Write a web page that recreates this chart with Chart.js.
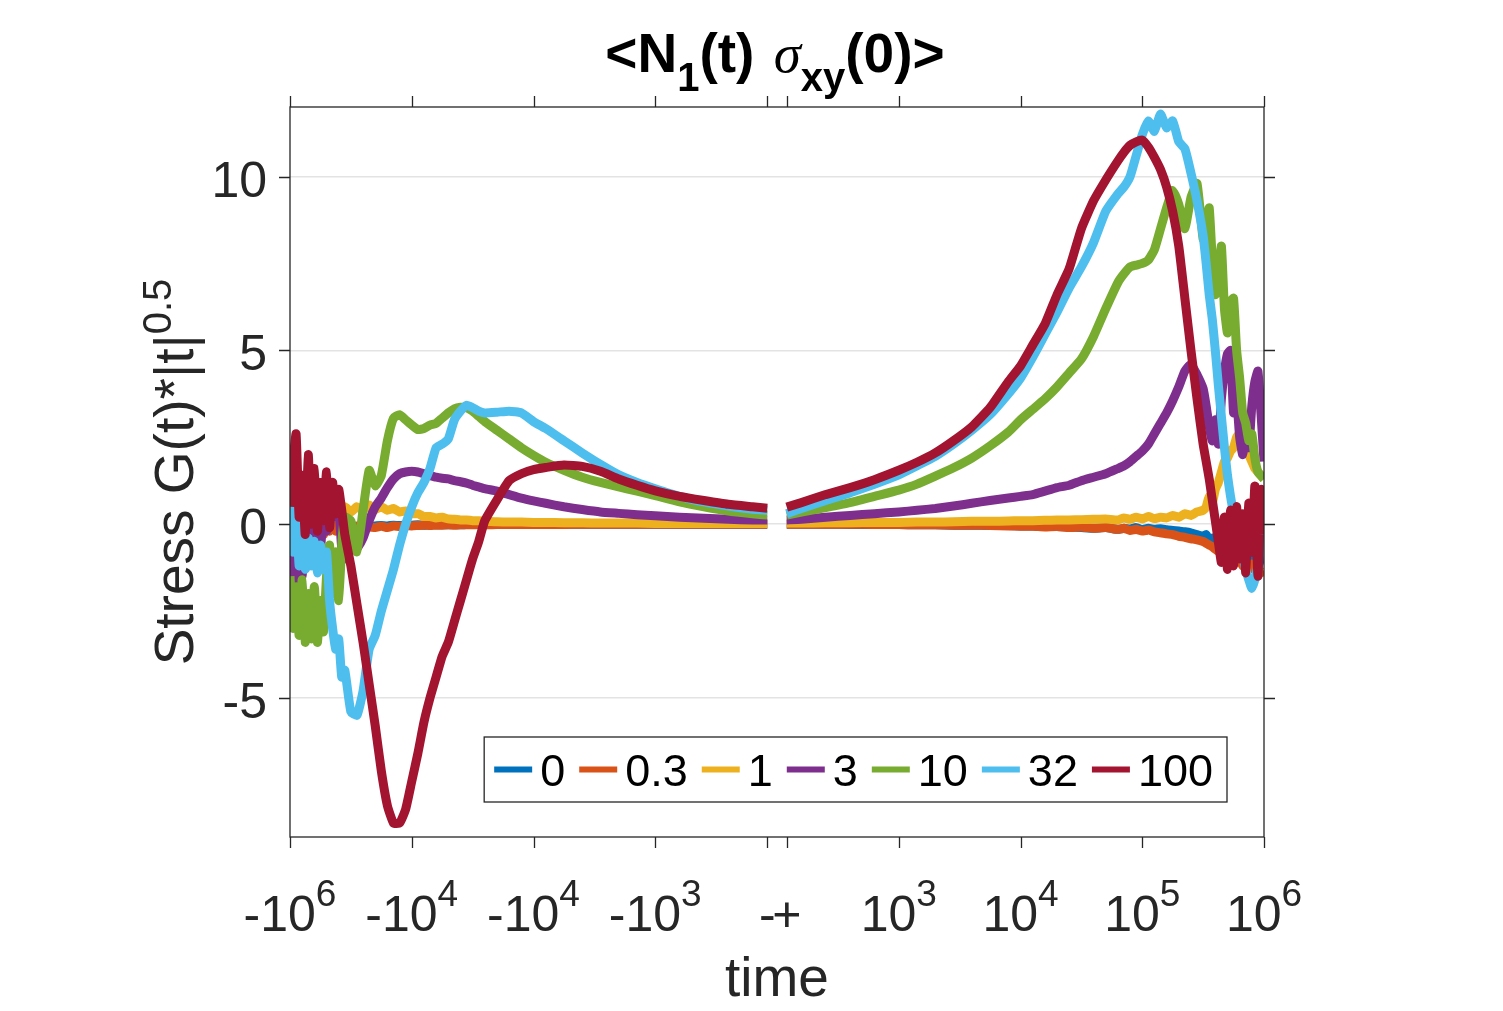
<!DOCTYPE html>
<html>
<head>
<meta charset="utf-8">
<title>N1 sigma_xy correlation</title>
<script src="https://cdn.jsdelivr.net/npm/chart.js@4.4.1/dist/chart.umd.min.js"></script>
<style>
    html, body { margin: 0; padding: 0; background: #fff; }
    #wrap { width: 1503px; height: 1011px; }
</style>
</head>
<body>
<div id="wrap"><canvas id="chart" width="1503" height="1011"></canvas></div>
<script>
// Series labels and MATLAB default colours
const seriesNames = ['0', '0.3', '1', '3', '10', '32', '100'];
const seriesColors = ['#0072BD', '#D95319', '#EDB120', '#7E2F8E', '#77AC30', '#4DBEEE', '#A2142F'];

// log10|t| sample points, negative side (from -10^6 towards the gap) and positive side
const negTimeExp = [6.000, 5.975, 5.950, 5.925, 5.900, 5.875, 5.850, 5.825, 5.800, 5.775, 5.750, 5.725, 5.700, 5.675, 5.650, 5.625, 5.600, 5.575, 5.550,
    5.50, 5.45, 5.40, 5.35, 5.30, 5.25, 5.20, 5.15, 5.10, 5.05, 5.00, 4.95, 4.90, 4.85, 4.80, 4.75, 4.70, 4.65, 4.60, 4.55, 4.50, 4.45, 4.40,
    4.30, 4.20, 4.10, 4.00, 3.90,
    3.75, 3.60, 3.45, 3.30, 3.15, 3.00,
    2.80, 2.60, 2.40, 2.20, 2.08];
const posTimeExp = [2.08, 2.20, 2.40, 2.60, 2.80, 3.00, 3.15, 3.30, 3.45, 3.60, 3.75, 3.90,
    4.00, 4.10, 4.20, 4.30, 4.40, 4.50, 4.60, 4.70, 4.80,
    4.85, 4.90, 4.95, 5.00, 5.05, 5.10, 5.15, 5.20, 5.25, 5.30, 5.35, 5.40, 5.45, 5.50,
    5.525, 5.550, 5.575, 5.600, 5.625, 5.650, 5.675, 5.700, 5.725, 5.750, 5.775, 5.800, 5.825, 5.850, 5.875, 5.900, 5.925, 5.950, 5.975, 6.000];

// Stress G(t)*|t|^0.5, negative times
const neg0 = [-0.2, 0.2, -0.3, 0.1, -0.2, 0.2, -0.25, 0.1, -0.2, 0.15, -0.15, 0.1, -0.1, 0.05, -0.12, 0.05, -0.1, 0.0, -0.08,
    -0.05, -0.07, -0.04, -0.06, -0.05, -0.04, -0.05, -0.03, -0.04, -0.03, -0.03, -0.02, -0.03, -0.02, -0.02, -0.02, -0.02, -0.01, -0.02, -0.01, -0.01, -0.01, -0.01,
    -0.01, -0.01, 0, 0, 0,
    0, 0, 0, 0, 0, 0,
    0, 0, 0, 0, 0];
const neg03 = [0.3, -0.4, 0.2, -0.5, 0.3, -0.3, 0.1, -0.4, 0.2, -0.3, 0.1, -0.3, 0.0, -0.2, 0.1, -0.2, 0.0, -0.15, 0.0,
    -0.1, -0.05, -0.12, -0.08, -0.1, -0.06, -0.1, -0.05, -0.07, -0.04, -0.05, -0.04, -0.03, -0.04, -0.03, -0.03, -0.02, -0.03, -0.02, -0.02, -0.02, -0.01, -0.02,
    -0.01, -0.01, -0.01, -0.01, -0.01,
    -0.01, 0, 0, 0, 0, 0,
    0, 0, 0, 0, 0];
const neg1 = [0.6, -0.2, 0.5, -0.1, 0.6, 0.0, 0.5, -0.1, 0.4, 0.1, 0.5, 0.0, 0.4, 0.2, 0.5, 0.2, 0.45, 0.3, 0.5,
    0.35, 0.5, 0.4, 0.55, 0.42, 0.5, 0.4, 0.45, 0.35, 0.38, 0.3, 0.3, 0.22, 0.22, 0.18, 0.2, 0.15, 0.14, 0.12, 0.12, 0.1, 0.1, 0.08,
    0.07, 0.06, 0.06, 0.05, 0.05,
    0.04, 0.04, 0.03, 0.03, 0.03, 0.02,
    0.02, 0.02, 0.02, 0.02, 0.02];
const neg3 = [-2.6, -0.5, -2.0, 0.2, -1.5, 0.3, -1.2, 0.4, -1.0, 0.3, -0.8, 0.5, -0.2, 0.4, 0.6, 0.2, 0.5, -0.7, -1.0,
    -0.3, -0.7, -0.4, 0.1, 0.5, 0.75, 1.05, 1.3, 1.45, 1.5, 1.52, 1.5, 1.45, 1.4, 1.35, 1.32, 1.3, 1.25, 1.22, 1.18, 1.12, 1.07, 1.02,
    0.95, 0.85, 0.75, 0.67, 0.6,
    0.5, 0.42, 0.35, 0.31, 0.27, 0.24,
    0.2, 0.17, 0.14, 0.12, 0.12];
const neg10 = [-1.5, -3.0, -1.8, -3.2, -1.6, -3.4, -2.0, -3.3, -1.8, -3.4, -2.2, -3.1, -1.5, -0.6, -2.0, -0.8, -2.2, -0.6, 0.2,
    0.1, -0.8, 0.4, 1.55, 1.1, 1.4, 2.4, 3.05, 3.15, 3.0, 2.85, 2.72, 2.75, 2.85, 2.9, 3.05, 3.2, 3.32, 3.36, 3.35, 3.25, 3.1, 2.95,
    2.7, 2.45, 2.2, 1.98, 1.78,
    1.55, 1.35, 1.2, 1.07, 0.95, 0.82,
    0.64, 0.5, 0.38, 0.3, 0.26];
const neg32 = [1.0, -0.8, 0.5, -1.2, -0.3, -1.3, -0.4, -1.2, -0.5, -1.4, -0.6, -1.3, -0.8, -2.2, -3.0, -3.6, -3.3, -4.4, -4.2,
    -5.4, -5.5, -4.8, -3.6, -3.2, -2.5, -1.9, -1.3, -0.6, 0.0, 0.5, 0.9, 1.2, 1.6, 2.2, 2.3, 2.45, 3.0, 3.25, 3.42, 3.35, 3.25, 3.2,
    3.22, 3.25, 3.2, 2.95, 2.75,
    2.4, 2.05, 1.72, 1.42, 1.2, 1.02,
    0.8, 0.64, 0.52, 0.43, 0.4];
const neg100 = [0.5, 1.8, 2.6, 0.2, 1.4, -0.3, 2.0, 0.0, 1.6, -0.2, 1.2, 0.1, 1.5, -0.1, 1.2, 0.3, 1.0, 0.4, -0.3,
    -1.2, -2.3, -3.4, -4.6, -5.8, -7.1, -8.1, -8.6, -8.6, -8.2, -7.4, -6.6, -5.7, -5.0, -4.4, -3.8, -3.4, -2.8, -2.2, -1.6, -1.0, -0.5, 0.1,
    0.7, 1.25, 1.45, 1.57, 1.63,
    1.7, 1.66, 1.52, 1.3, 1.12, 0.96,
    0.8, 0.68, 0.57, 0.5, 0.46];

// Stress G(t)*|t|^0.5, positive times
const pos0 = [0, 0, 0, -0.01, -0.01, -0.01, -0.02, -0.02, -0.03, -0.03, -0.04, -0.04,
    -0.05, -0.05, -0.06, -0.07, -0.08, -0.1, -0.12, -0.1, -0.15,
    -0.12, -0.14, -0.1, -0.16, -0.12, -0.15, -0.13, -0.16, -0.18, -0.2, -0.22, -0.25, -0.3, -0.35,
    -0.3, -0.45, -0.4, -0.5, -0.45, -0.6, -0.55, -0.7, -0.6, -0.8, -0.7, -0.9, -0.75, -1.0, -0.85, -1.1, -0.9, -1.2, -1.0, -1.1];
const pos03 = [0, 0, 0, 0, -0.01, -0.01, -0.02, -0.02, -0.03, -0.03, -0.04, -0.05,
    -0.06, -0.06, -0.08, -0.07, -0.1, -0.08, -0.12, -0.1, -0.15,
    -0.12, -0.18, -0.15, -0.2, -0.17, -0.22, -0.25, -0.28, -0.3, -0.35, -0.38, -0.42, -0.45, -0.5,
    -0.55, -0.6, -0.65, -0.72, -0.78, -0.8, -0.9, -0.85, -1.0, -0.95, -1.1, -1.0, -1.2, -1.1, -1.3, -1.15, -1.3, -1.25, -1.4, -1.35];
const pos1 = [0.03, 0.03, 0.04, 0.04, 0.05, 0.05, 0.06, 0.06, 0.07, 0.08, 0.08, 0.09,
    0.1, 0.1, 0.11, 0.12, 0.12, 0.13, 0.14, 0.15, 0.12,
    0.18, 0.14, 0.2, 0.15, 0.22, 0.16, 0.2, 0.18, 0.25, 0.2, 0.3, 0.25, 0.35, 0.4,
    0.5, 0.8, 0.6, 1.0, 1.2, 1.5, 1.8, 1.9, 2.1, 2.2, 2.5, 2.6, 2.4, 2.2, 2.0, 1.8, 1.6, 1.5, 1.4, 1.3];
const pos3 = [0.12, 0.14, 0.2, 0.25, 0.3, 0.35, 0.4, 0.45, 0.52, 0.6, 0.68, 0.75,
    0.8, 0.85, 0.95, 1.05, 1.12, 1.25, 1.35, 1.45, 1.6,
    1.68, 1.8, 1.95, 2.1, 2.3, 2.6, 2.9, 3.2, 3.55, 3.95, 4.4, 4.6, 4.3, 3.9,
    3.4, 2.8, 2.4, 3.0, 2.3, 3.6, 4.4, 4.9, 5.0, 3.2, 3.6, 2.5, 2.0, 2.6, 2.2, 3.4, 4.1, 4.4, 3.2, 1.8];
const pos10 = [0.26, 0.35, 0.48, 0.62, 0.8, 0.98, 1.15, 1.38, 1.62, 1.9, 2.25, 2.65,
    3.0, 3.3, 3.6, 3.95, 4.35, 4.75, 5.4, 6.2, 6.95,
    7.2, 7.4, 7.45, 7.5, 7.6, 7.9, 8.5, 9.1, 9.6, 9.2, 8.5, 9.4, 9.8, 8.2,
    8.5, 9.1, 7.6, 6.6, 7.2, 8.0, 6.2, 5.5, 6.4, 6.5, 5.0, 4.2, 3.2, 2.9, 2.4, 2.6, 1.9, 1.5, 1.4, 1.3];
const pos32 = [0.3, 0.45, 0.68, 0.9, 1.15, 1.42, 1.68, 1.95, 2.3, 2.7, 3.15, 3.75,
    4.2, 4.8, 5.45, 6.1, 6.8, 7.4, 8.1, 9.0, 9.5,
    9.7, 10.0, 10.6, 11.2, 11.6, 11.3, 11.8, 11.4, 11.6, 11.0, 10.8, 10.1, 9.3, 8.3,
    7.5, 6.6, 5.9, 5.0, 4.0, 3.1, 2.2, 1.4, 0.8, 0.3, -0.1, -0.4, -0.9, -1.3, -1.6, -1.85, -1.6, -1.2, -0.5, 1.0];
const pos100 = [0.49, 0.62, 0.85, 1.05, 1.28, 1.55, 1.78, 2.05, 2.4, 2.8, 3.35, 4.1,
    4.55, 5.15, 5.75, 6.6, 7.35, 8.5, 9.3, 9.9, 10.45,
    10.7, 10.9, 11.0, 11.05, 10.85, 10.55, 10.2, 9.7, 9.0, 8.0, 6.5, 5.0, 3.6, 2.3,
    1.8, 1.3, 0.7, 0.1, -0.5, -1.1, 0.2, -1.3, 0.4, -1.2, 0.5, -1.0, 0.3, -1.4, 0.6, -0.8, 1.1, -1.5, 1.0, -0.3];

const negSeries = [neg0, neg03, neg1, neg3, neg10, neg32, neg100];
const posSeries = [pos0, pos03, pos1, pos3, pos10, pos32, pos100];

// Tick labels
const yTicks = [-5, 0, 5, 10];
const xTickExp = [-6, -5, -4, -3, -2.08, 2.08, 3, 4, 5, 6];  // signed log10|t|
const xTickBase = ['-10', '-10', '-10', '-10', '-', '+', '10', '10', '10', '10'];
const xTickSup = ['6', '4', '4', '3', '', '', '3', '4', '5', '6'];

// axis coordinate: decades away from |t| = 100, signed
function toAxis(signedExp) {
    return Math.sign(signedExp) * (Math.abs(signedExp) - 2);
}

const axisColor = '#262626';
const fontSans = '"Liberation Sans", Arial, Helvetica, sans-serif';

// Draw a run of text pieces (font changes, sub/superscripts) on one line
function drawRich(ctx, parts, x, y, align) {
    let total = 0;
    parts.forEach(p => {
        ctx.font = p.font;
        p.w = ctx.measureText(p.text).width + (p.gap || 0);
        total += p.w;
    });
    let cx = x;
    if (align === 'center') cx = x - total / 2;
    if (align === 'right') cx = x - total;
    ctx.textAlign = 'left';
    ctx.textBaseline = 'alphabetic';
    parts.forEach(p => {
        ctx.font = p.font;
        ctx.fillText(p.text, cx, y + (p.dy || 0));
        cx += p.w;
    });
}

const matlabAxes = {
    id: 'matlabAxes',
    afterDraw(chart) {
        const ctx = chart.ctx;
        const a = chart.chartArea;
        const xs = chart.scales.x;
        const ys = chart.scales.y;
        ctx.save();

        // axes box
        ctx.strokeStyle = axisColor;
        ctx.lineWidth = 1.3;
        ctx.strokeRect(a.left, a.top, a.right - a.left, a.bottom - a.top);

        // outward tick marks on all four sides
        const tickLen = 11;
        ctx.beginPath();
        xTickExp.forEach(e => {
            const px = Math.round(xs.getPixelForValue(toAxis(e))) + 0.5;
            ctx.moveTo(px, a.bottom); ctx.lineTo(px, a.bottom + tickLen);
            ctx.moveTo(px, a.top); ctx.lineTo(px, a.top - tickLen);
        });
        yTicks.forEach(v => {
            const py = Math.round(ys.getPixelForValue(v)) + 0.5;
            ctx.moveTo(a.left, py); ctx.lineTo(a.left - tickLen, py);
            ctx.moveTo(a.right, py); ctx.lineTo(a.right + tickLen, py);
        });
        ctx.stroke();

        // tick labels
        ctx.fillStyle = axisColor;
        xTickExp.forEach((e, i) => {
            const px = xs.getPixelForValue(toAxis(e));
            const parts = [{ text: xTickBase[i], font: '50px ' + fontSans }];
            if (xTickSup[i]) parts.push({ text: xTickSup[i], font: '37px ' + fontSans, dy: -25 });
            drawRich(ctx, parts, px, a.bottom + 94, 'center');
        });
        yTicks.forEach(v => {
            const py = ys.getPixelForValue(v);
            drawRich(ctx, [{ text: String(v), font: '50px ' + fontSans }], a.left - 23, py + 20, 'right');
        });

        // axis labels
        drawRich(ctx, [{ text: 'time', font: '55px ' + fontSans }], (a.left + a.right) / 2, a.bottom + 159, 'center');
        ctx.save();
        ctx.translate(a.left - 97, (a.top + a.bottom) / 2);
        ctx.rotate(-Math.PI / 2);
        drawRich(ctx, [
            { text: 'Stress G(t)*|t|', font: '55px ' + fontSans },
            { text: '0.5', font: '40px ' + fontSans, dy: -22 }
        ], 0, 0, 'center');
        ctx.restore();

        // title
        ctx.fillStyle = '#000';
        const tb = 'bold 55px ' + fontSans;
        const ts = 'bold 40px ' + fontSans;
        drawRich(ctx, [
            { text: '<N', font: tb },
            { text: '1', font: ts, dy: 19 },
            { text: '(t) ', font: tb, gap: 4 },
            { text: '\u03C3', font: 'italic 55px "Liberation Serif", "DejaVu Serif", serif' },
            { text: 'xy', font: ts, dy: 19 },
            { text: '(0)>', font: tb }
        ], (a.left + a.right) / 2 - 2, 72, 'center');

        // legend box (southeast, one row)
        const lf = '45px ' + fontSans;
        ctx.font = lf;
        const lineLen = 38, gapText = 8, gapItem = 14, padL = 10;
        const widths = seriesNames.map(n => ctx.measureText(n).width);
        const boxW = padL + widths.reduce((s, w) => s + w + lineLen + gapText + gapItem, 0);
        const boxH = 65;
        const bx = a.right - 37 - boxW;
        const by = a.bottom - 35 - boxH;
        ctx.fillStyle = '#fff';
        ctx.fillRect(bx, by, boxW, boxH);
        ctx.strokeStyle = axisColor;
        ctx.lineWidth = 1.3;
        ctx.strokeRect(bx, by, boxW, boxH);
        let lx = bx + padL;
        const cy = by + boxH / 2;
        seriesNames.forEach((n, k) => {
            ctx.strokeStyle = seriesColors[k];
            ctx.lineWidth = 6;
            ctx.lineCap = 'butt';
            ctx.beginPath();
            ctx.moveTo(lx, cy); ctx.lineTo(lx + lineLen, cy);
            ctx.stroke();
            ctx.fillStyle = '#000';
            drawRich(ctx, [{ text: n, font: lf }], lx + lineLen + gapText, cy + 16, 'left');
            lx += lineLen + gapText + widths[k] + gapItem;
        });

        ctx.restore();
    }
};

const datasets = seriesNames.map((name, k) => ({
    label: name,
    data: negTimeExp.map((e, i) => ({ x: toAxis(-e), y: negSeries[k][i] }))
        .concat([{ x: 0, y: null }])
        .concat(posTimeExp.map((e, i) => ({ x: toAxis(e), y: posSeries[k][i] }))),
    borderColor: seriesColors[k],
    backgroundColor: seriesColors[k],
    borderWidth: 9,
    borderCapStyle: 'butt',
    borderJoinStyle: 'round',
    pointRadius: 0,
    tension: 0.15,
    fill: false,
    order: seriesNames.length - k   // last series drawn on top, like MATLAB
}));

new Chart(document.getElementById('chart'), {
    type: 'line',
    data: { datasets },
    options: {
        responsive: false,
        animation: false,
        devicePixelRatio: 1,
        layout: { padding: { left: 290, right: 239, top: 107, bottom: 174 } },
        plugins: {
            legend: { display: false },
            tooltip: { enabled: false }
        },
        scales: {
            x: {
                type: 'linear',
                min: -4,
                max: 4,
                ticks: { display: false },
                grid: { display: false, drawTicks: false },
                border: { display: false }
            },
            y: {
                type: 'linear',
                min: -9,
                max: 12,
                afterBuildTicks: axis => { axis.ticks = yTicks.map(v => ({ value: v })); },
                ticks: { display: false },
                grid: { color: '#e3e3e3', lineWidth: 1.5, drawTicks: false },
                border: { display: false }
            }
        }
    },
    plugins: [matlabAxes]
});
</script>
</body>
</html>
